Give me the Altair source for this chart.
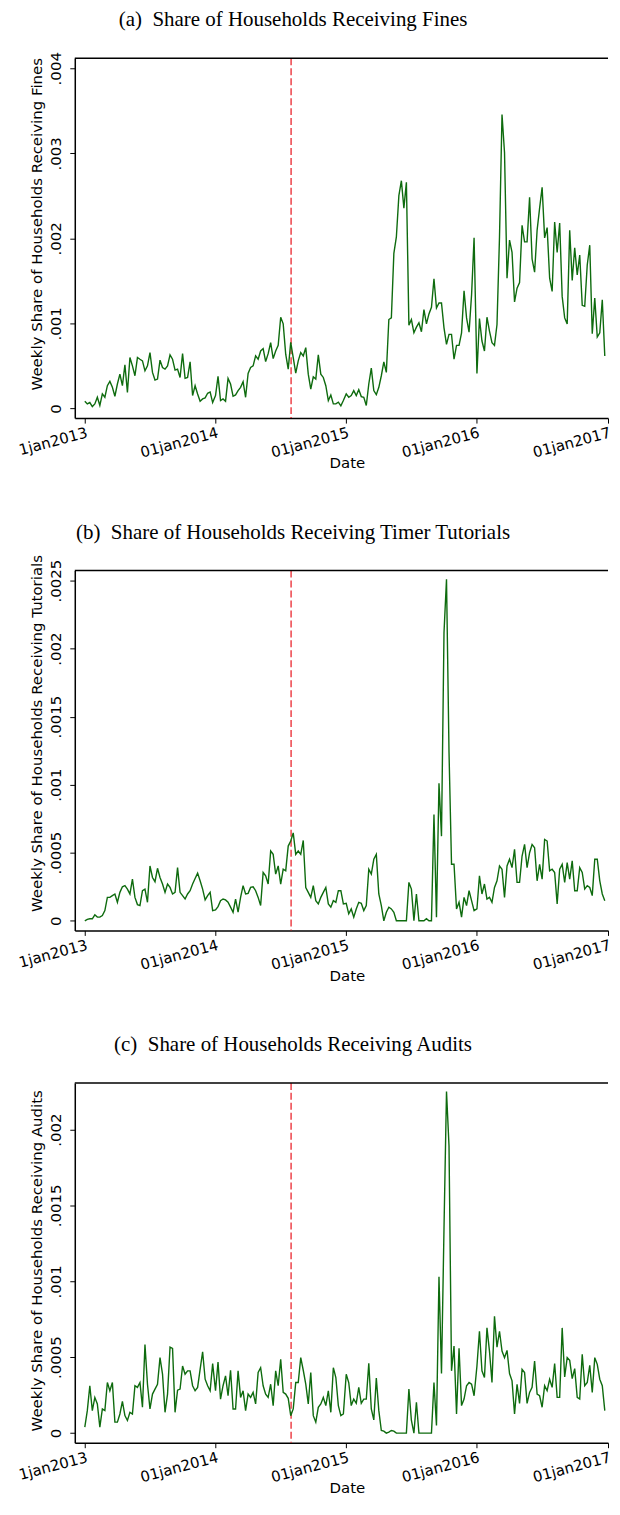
import altair as alt
import pandas as pd
from datetime import date, timedelta

# Stata weekly dates: 52 weeks per year, 2013-2016
years = [2013, 2014, 2015, 2016]
week_dates = [(date(y, 1, 1) + timedelta(days=7 * k)).isoformat() for y in years for k in range(52)]

# weekly shares, in thousandths (x 0.001)
fines_k = [
    0.086, 0.054, 0.070, 0.023, 0.054, 0.132, 0.035, 0.171, 0.132, 0.268,
    0.319, 0.249, 0.144, 0.288, 0.404, 0.268, 0.513, 0.190, 0.599, 0.501,
    0.385, 0.599, 0.579, 0.560, 0.443, 0.501, 0.657, 0.424, 0.334, 0.346,
    0.568, 0.482, 0.463, 0.501, 0.630, 0.579, 0.451, 0.463, 0.365, 0.645,
    0.354, 0.365, 0.548, 0.152, 0.268, 0.171, 0.086, 0.113, 0.124, 0.179,
    0.194, 0.070, 0.152, 0.377, 0.093, 0.113, 0.086, 0.354, 0.288, 0.144,
    0.159, 0.210, 0.249, 0.315, 0.132, 0.412, 0.482, 0.501, 0.618, 0.579,
    0.676, 0.704, 0.552, 0.645, 0.774, 0.587, 0.676, 0.742, 1.073, 0.995,
    0.638, 0.463, 0.777, 0.599, 0.416, 0.560, 0.657, 0.618, 0.715, 0.404,
    0.229, 0.373, 0.346, 0.630, 0.404, 0.365, 0.268, 0.093, 0.159, 0.054,
    0.054, 0.074, 0.031, 0.093, 0.171,
    0.132, 0.152, 0.210, 0.152, 0.222, 0.140, 0.132, 0.035, 0.288, 0.474,
    0.210, 0.163, 0.249, 0.385, 0.548, 0.424, 1.046, 1.065, 1.823, 2.017,
    2.503, 2.678, 2.356, 2.659, 0.980, 1.046, 0.890, 0.956, 1.007, 0.902,
    1.162, 0.995, 1.112, 1.190, 1.524, 1.182, 1.240, 1.240, 0.948, 0.754,
    0.871, 0.871, 0.579, 0.742, 0.742, 0.890, 1.384, 1.065, 0.898, 1.337,
    2.006, 0.412, 1.057, 0.793, 0.676, 1.073, 0.910, 0.774, 0.742, 0.987,
    2.017, 3.456, 3.009, 1.532, 1.979, 1.835, 1.252, 1.415, 1.481, 2.154,
    1.959, 1.959, 2.484, 1.757, 1.602, 2.095, 2.356, 2.601, 2.006, 2.126,
    1.532, 1.376, 2.192, 1.835, 2.181, 1.318, 1.065, 0.995, 2.095, 1.504,
    1.889, 1.570, 1.804, 1.213, 1.201, 1.687, 1.920, 0.879, 1.298, 0.840,
    0.890, 1.279, 0.618,
]

tutorials_k = [
    0.000, 0.010, 0.015, 0.015, 0.044, 0.027, 0.027, 0.039, 0.075, 0.172,
    0.172, 0.185, 0.197, 0.136, 0.209, 0.250, 0.258, 0.233, 0.197, 0.306,
    0.172, 0.119, 0.112, 0.221, 0.233, 0.136, 0.403, 0.318, 0.287, 0.386,
    0.318, 0.270, 0.209, 0.270, 0.245, 0.197, 0.209, 0.391, 0.209, 0.185,
    0.160, 0.197, 0.221, 0.270, 0.311, 0.350, 0.294, 0.233, 0.153, 0.185,
    0.209, 0.075, 0.080, 0.104, 0.148, 0.160, 0.153, 0.136, 0.100, 0.063,
    0.160, 0.063, 0.172, 0.258, 0.197, 0.202, 0.245, 0.250, 0.221, 0.172,
    0.112, 0.355, 0.330, 0.270, 0.513, 0.488, 0.343, 0.403, 0.270, 0.379,
    0.367, 0.549, 0.586, 0.646, 0.488, 0.513, 0.488, 0.590, 0.245, 0.209,
    0.172, 0.258, 0.148, 0.124, 0.172, 0.209, 0.245, 0.124, 0.100, 0.148,
    0.136, 0.221, 0.221, 0.124, 0.129, 0.051,
    0.087, 0.027, 0.087, 0.136, 0.129, 0.075, 0.112, 0.379, 0.343, 0.452,
    0.488, 0.197, 0.112, 0.000, 0.063, 0.100, 0.087, 0.063, 0.000, 0.000,
    0.000, 0.000, 0.000, 0.282, 0.233, 0.000, 0.197, 0.000, 0.000, 0.000,
    0.015, 0.000, 0.000, 0.780, 0.027, 1.011, 0.622, 2.116, 2.510, 1.241,
    0.415, 0.415, 0.087, 0.136, 0.027, 0.172, 0.112, 0.221, 0.148, 0.075,
    0.087, 0.330, 0.197, 0.270, 0.160, 0.172, 0.136, 0.245, 0.294, 0.403,
    0.379, 0.172, 0.403, 0.452, 0.391, 0.525, 0.282, 0.282, 0.476, 0.561,
    0.391, 0.500, 0.561, 0.537, 0.294, 0.415, 0.306, 0.598, 0.586, 0.367,
    0.379, 0.355, 0.124, 0.379, 0.415, 0.282, 0.428, 0.306, 0.440, 0.221,
    0.221, 0.391, 0.355, 0.233, 0.258, 0.245, 0.185, 0.452, 0.452, 0.294,
    0.197, 0.148,
]

audits_k = [
    0.039, 0.148, 0.312, 0.148, 0.235, 0.192, 0.039, 0.159, 0.148,
    0.333, 0.279, 0.333, 0.072, 0.072, 0.126, 0.209, 0.115, 0.083, 0.137,
    0.126, 0.312, 0.301, 0.333, 0.170, 0.584, 0.322, 0.159, 0.257,
    0.290, 0.322, 0.497, 0.388, 0.137, 0.257, 0.566, 0.558, 0.137, 0.283,
    0.290, 0.442, 0.388, 0.410, 0.410, 0.312, 0.279, 0.301, 0.420, 0.536,
    0.355, 0.312, 0.279, 0.458, 0.279, 0.468, 0.224, 0.312, 0.377, 0.246,
    0.414, 0.159, 0.159, 0.410, 0.235, 0.279, 0.148, 0.257, 0.235, 0.268,
    0.192, 0.399, 0.431, 0.312, 0.257, 0.235, 0.322, 0.181, 0.410, 0.312,
    0.486, 0.268, 0.257, 0.229, 0.115, 0.159, 0.333, 0.333, 0.497, 0.414,
    0.322, 0.192, 0.399, 0.115, 0.072, 0.170, 0.192, 0.235, 0.181, 0.279,
    0.137, 0.431, 0.366, 0.181, 0.115, 0.126, 0.388,
    0.333, 0.181, 0.224, 0.196, 0.301, 0.196, 0.224, 0.224, 0.460, 0.159,
    0.087, 0.362, 0.148, 0.017, 0.013, 0.000, 0.007, 0.017, 0.013, 0.000,
    0.000, 0.000, 0.000, 0.000, 0.290, 0.083, 0.000, 0.203, 0.000, 0.000,
    0.000, 0.000, 0.000, 0.000, 0.333, 0.050, 1.030, 0.392, 1.346, 2.251,
    1.891, 0.410, 0.573, 0.126, 0.558, 0.181, 0.224, 0.312, 0.333, 0.322,
    0.246, 0.442, 0.671, 0.410, 0.366, 0.693, 0.540, 0.333, 0.769, 0.566,
    0.671, 0.540, 0.497, 0.545, 0.392, 0.344, 0.126, 0.322, 0.196, 0.420,
    0.399, 0.196, 0.268, 0.301, 0.475, 0.257, 0.246, 0.170, 0.312, 0.279,
    0.355, 0.301, 0.458, 0.235, 0.235, 0.693, 0.370, 0.497, 0.479, 0.359,
    0.425, 0.235, 0.224, 0.519, 0.312, 0.333, 0.447, 0.268, 0.497, 0.453,
    0.355, 0.312, 0.148,
]

policy_date = "2014-07-31"
year_ticks = [2013, 2014, 2015, 2016, 2017]
# first label appears cut at the figure's left edge in the original
tick_labels = ["1jan2013", "01jan2014", "01jan2015", "01jan2016", "01jan2017"]

panels = [
    dict(title="(a)\u00a0 Share of Households Receiving Fines",
         ytitle="Weekly Share of Households Receiving Fines",
         values=fines_k, domain=[-0.000113, 0.004117],
         ticks=[0, 0.001, 0.002, 0.003, 0.004], ty=166),
    dict(title="(b)\u00a0 Share of Households Receiving Timer Tutorials",
         ytitle="Weekly Share of Households Receiving Tutorials",
         values=tutorials_k, domain=[-0.0000707, 0.002573],
         ticks=[0, 0.0005, 0.001, 0.0015, 0.002, 0.0025], ty=163),
    dict(title="(c)\u00a0 Share of Households Receiving Audits",
         ytitle="Weekly Share of Households Receiving Audits",
         values=audits_k, domain=[-0.0000634, 0.002307],
         ticks=[0, 0.0005, 0.001, 0.0015, 0.002], ty=178),
]

W, H = 535, 361
LINE = "#0e6b0e"
RED = "#e8141c"
AX = "DejaVu Sans"
label_js = "[" + ",".join("'%s'" % s for s in tick_labels) + "]"

xscale = alt.Scale(type="utc",
                   domain=[alt.DateTime(year=2012, month=12, date=4, utc=True),
                           alt.DateTime(year=2017, month=1, date=1, utc=True)])
xaxis = alt.Axis(values=[alt.DateTime(year=y, month=1, date=1, utc=True) for y in year_ticks],
                 labelExpr=label_js + "[utcyear(datum.value) - 2013]",
                 labelAngle=345, labelAlign="right", labelBaseline="top",
                 labelPadding=2, tickSize=5, title="Date",
                 titleX=273, titleY=50, titleAlign="center", titleBaseline="alphabetic",
                 labelOverlap=False, labelFlush=False, grid=False)

charts = []
for idx, p in enumerate(panels):
    n = len(p["values"])
    df = pd.DataFrame({"date": week_dates[:n],
                       "share": [v / 1000 for v in p["values"]]})
    yaxis = alt.Axis(values=p["ticks"],
                     labelExpr="datum.value == 0 ? '0' : replace(format(datum.value, '~g'), '0.', '.')",
                     labelAngle=270, labelAlign="center", labelBaseline="alphabetic",
                     labelPadding=9, tickSize=5, title=p["ytitle"], titlePadding=4,
                     titleY=p["ty"],
                     labelOverlap=False, labelFlush=False, grid=False)
    line = alt.Chart(df).mark_line(color=LINE, strokeWidth=1.4, clip=True).encode(
        x=alt.X("date:T", scale=xscale, axis=xaxis),
        y=alt.Y("share:Q", scale=alt.Scale(domain=p["domain"], nice=False, zero=False), axis=yaxis),
    )
    rule = alt.Chart(pd.DataFrame({"date": [policy_date]})).mark_rule(
        color=RED, strokeDash=[7, 3], strokeWidth=1.2).encode(x=alt.X("date:T"))
    top = alt.Chart(pd.DataFrame({"k": [0]})).mark_rule(color="black", strokeWidth=1.5).encode(
        x=alt.value(0), x2=alt.value(W), y=alt.value(0))
    title = alt.Chart(pd.DataFrame({"t": [p["title"]]})).mark_text(
        font="Liberation Serif", fontSize=21, color="black", align="center",
        baseline="alphabetic").encode(x=alt.value(219), y=alt.value(-32), text="t:N")
    # invisible frame fixing each panel's layout box
    y_end = 449 if idx < 2 else 380
    frame = alt.Chart(pd.DataFrame({"k": [0]})).mark_rule(opacity=0, strokeWidth=1).encode(
        x=alt.value(-100), y=alt.value(-55), y2=alt.value(y_end))
    ch = alt.layer(frame, rule, line, top, title).properties(width=W, height=H)
    charts.append(ch)

chart = alt.vconcat(*charts, spacing=10).properties(
    padding={"left": -33, "top": -7, "right": 0, "bottom": 0}
).configure_view(stroke=None).configure_axis(
    labelFont=AX, labelFontSize=15, labelColor="black",
    titleFont=AX, titleFontSize=15, titleFontWeight="normal", titleColor="black",
    domainColor="black", domainWidth=1.5, tickColor="black", tickWidth=1,
)

chart.save("out.html", embed_options={"renderer": "svg", "actions": False})
